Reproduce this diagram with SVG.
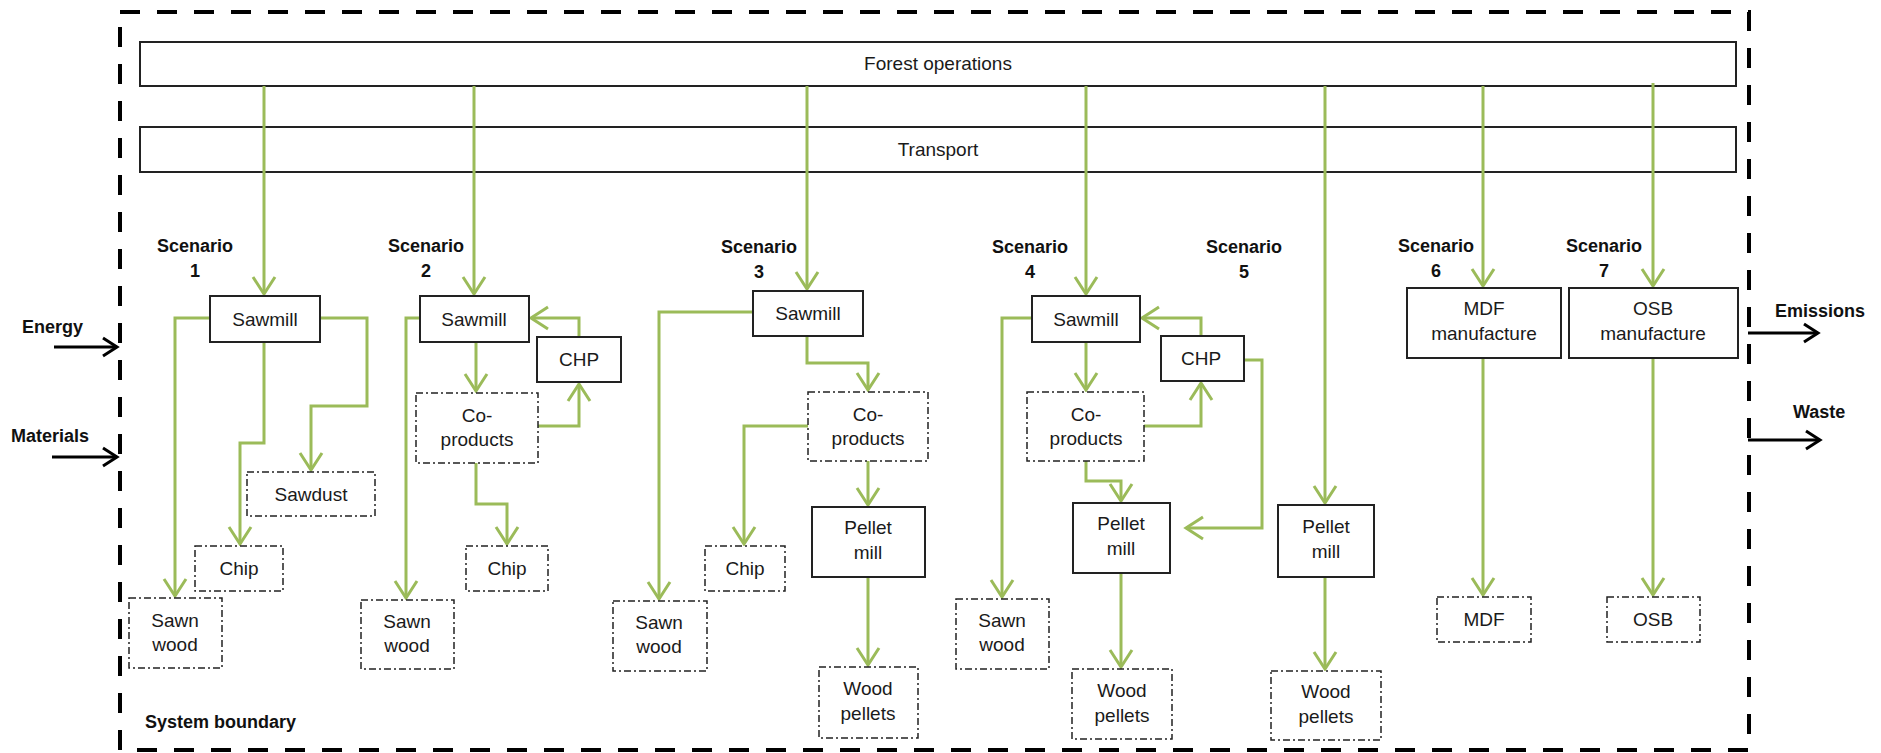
<svg xmlns="http://www.w3.org/2000/svg" width="1881" height="753" viewBox="0 0 1881 753">
<style>
.bar{fill:#fff;stroke:#222;stroke-width:2}
.proc{fill:#fff;stroke:#222;stroke-width:2}
.prod{fill:#fff;stroke:#222;stroke-width:1.5;stroke-dasharray:7 3 2 3}
.t{font-family:"Liberation Sans",Arial,sans-serif;font-size:19px;fill:#1a1a1a;text-anchor:middle}
.b{font-family:"Liberation Sans",Arial,sans-serif;font-size:18px;font-weight:bold;fill:#111}
.bc{text-anchor:middle}
.g{fill:none;stroke:#9BBB59;stroke-width:3;marker-end:url(#ga)}
.k{fill:none;stroke:#000;stroke-width:3;marker-end:url(#ka)}
</style>
<defs>
<marker id="ga" markerUnits="userSpaceOnUse" markerWidth="30" markerHeight="30" viewBox="-20 -15 25 30" refX="0" refY="0" orient="auto">
<path d="M-17,-11 L0,0 L-17,11" fill="none" stroke="#9BBB59" stroke-width="3"/>
</marker>
<marker id="ka" markerUnits="userSpaceOnUse" markerWidth="30" markerHeight="30" viewBox="-20 -15 25 30" refX="0" refY="0" orient="auto">
<path d="M-14,-9 L0,0 L-14,9" fill="none" stroke="#000" stroke-width="3"/>
</marker>
</defs>
<rect width="1881" height="753" fill="#fff"/>

<g id="system-boundary">
<rect x="120" y="12" width="1629" height="738" fill="none" stroke="#000" stroke-width="4" stroke-dasharray="20 17"/>
<text class="b" x="145" y="728">System boundary</text>
</g>

<g id="forest-operations">
<rect class="bar" x="140" y="42" width="1596" height="44"/>
<text class="t" x="938" y="70">Forest operations</text>
</g>
<g id="transport">
<rect class="bar" x="140" y="127" width="1596" height="45"/>
<text class="t" x="938" y="156">Transport</text>
</g>

<g id="connectors">
<!-- Scenario 1 -->
<path class="g" d="M264,86 V294"/>
<path class="g" d="M210,318 H175 V596"/>
<path class="g" d="M264,342 V443 H240 V544"/>
<path class="g" d="M320,318 H367 V406 H311 V470"/>
<!-- Scenario 2 -->
<path class="g" d="M474,86 V294"/>
<path class="g" d="M420,318 H406 V598"/>
<path class="g" d="M476,342 V391"/>
<path class="g" d="M538,426 H579 V384"/>
<path class="g" d="M579,337 V318 H531"/>
<path class="g" d="M476,463 V504 H507 V544"/>
<!-- Scenario 3 -->
<path class="g" d="M807,86 V289"/>
<path class="g" d="M753,312 H659 V599"/>
<path class="g" d="M807,336 V363 H868 V390"/>
<path class="g" d="M808,426 H744 V544"/>
<path class="g" d="M868,461 V505"/>
<path class="g" d="M868,577 V665"/>
<!-- Scenario 4 -->
<path class="g" d="M1086,86 V294"/>
<path class="g" d="M1032,318 H1002 V597"/>
<path class="g" d="M1086,342 V390"/>
<path class="g" d="M1144,426 H1201 V383"/>
<path class="g" d="M1201,336 V318 H1142"/>
<path class="g" d="M1086,461 V481 H1121 V501"/>
<path class="g" d="M1244,360 H1262 V528 H1186"/>
<path class="g" d="M1121,573 V667"/>
<!-- Scenario 5 -->
<path class="g" d="M1325,86 V503"/>
<path class="g" d="M1325,577 V669"/>
<!-- Scenario 6 -->
<path class="g" d="M1483,86 V286"/>
<path class="g" d="M1483,358 V595"/>
<!-- Scenario 7 -->
<path class="g" d="M1653,83 V286"/>
<path class="g" d="M1653,358 V595"/>
<!-- boundary flows -->
<path class="k" d="M54,347 H117"/>
<path class="k" d="M52,457 H117"/>
<path class="k" d="M1748,333 H1818"/>
<path class="k" d="M1748,440 H1820"/>
</g>

<g id="flow-labels">
<text class="b" x="22" y="333">Energy</text>
<text class="b" x="11" y="442">Materials</text>
<text class="b" x="1775" y="317">Emissions</text>
<text class="b" x="1793" y="418">Waste</text>
</g>

<g id="scenario-labels">
<text class="b bc" x="195" y="252">Scenario</text><text class="b bc" x="195" y="277">1</text>
<text class="b bc" x="426" y="252">Scenario</text><text class="b bc" x="426" y="277">2</text>
<text class="b bc" x="759" y="253">Scenario</text><text class="b bc" x="759" y="278">3</text>
<text class="b bc" x="1030" y="253">Scenario</text><text class="b bc" x="1030" y="278">4</text>
<text class="b bc" x="1244" y="253">Scenario</text><text class="b bc" x="1244" y="278">5</text>
<text class="b bc" x="1436" y="252">Scenario</text><text class="b bc" x="1436" y="277">6</text>
<text class="b bc" x="1604" y="252">Scenario</text><text class="b bc" x="1604" y="277">7</text>
</g>

<!-- Scenario 1 nodes -->
<g id="s1-sawmill"><rect class="proc" x="210" y="296" width="110" height="46"/><text class="t" x="265" y="326">Sawmill</text></g>
<g id="s1-sawdust"><rect class="prod" x="247" y="472" width="128" height="44"/><text class="t" x="311" y="501">Sawdust</text></g>
<g id="s1-chip"><rect class="prod" x="195" y="546" width="88" height="45"/><text class="t" x="239" y="575">Chip</text></g>
<g id="s1-sawnwood"><rect class="prod" x="129" y="598" width="93" height="70"/><text class="t" x="175" y="627">Sawn</text><text class="t" x="175" y="651">wood</text></g>

<!-- Scenario 2 nodes -->
<g id="s2-sawmill"><rect class="proc" x="420" y="296" width="109" height="46"/><text class="t" x="474" y="326">Sawmill</text></g>
<g id="s2-chp"><rect class="proc" x="537" y="337" width="84" height="45"/><text class="t" x="579" y="366">CHP</text></g>
<g id="s2-coproducts"><rect class="prod" x="416" y="393" width="122" height="70"/><text class="t" x="477" y="422">Co-</text><text class="t" x="477" y="446">products</text></g>
<g id="s2-chip"><rect class="prod" x="466" y="546" width="82" height="45"/><text class="t" x="507" y="575">Chip</text></g>
<g id="s2-sawnwood"><rect class="prod" x="361" y="600" width="93" height="69"/><text class="t" x="407" y="628">Sawn</text><text class="t" x="407" y="652">wood</text></g>

<!-- Scenario 3 nodes -->
<g id="s3-sawmill"><rect class="proc" x="753" y="291" width="110" height="45"/><text class="t" x="808" y="320">Sawmill</text></g>
<g id="s3-coproducts"><rect class="prod" x="808" y="392" width="120" height="69"/><text class="t" x="868" y="421">Co-</text><text class="t" x="868" y="445">products</text></g>
<g id="s3-chip"><rect class="prod" x="705" y="546" width="80" height="45"/><text class="t" x="745" y="575">Chip</text></g>
<g id="s3-pelletmill"><rect class="proc" x="812" y="507" width="113" height="70"/><text class="t" x="868" y="534">Pellet</text><text class="t" x="868" y="559">mill</text></g>
<g id="s3-woodpellets"><rect class="prod" x="819" y="667" width="99" height="71"/><text class="t" x="868" y="695">Wood</text><text class="t" x="868" y="720">pellets</text></g>
<g id="s3-sawnwood"><rect class="prod" x="613" y="601" width="94" height="70"/><text class="t" x="659" y="629">Sawn</text><text class="t" x="659" y="653">wood</text></g>

<!-- Scenario 4 nodes -->
<g id="s4-sawmill"><rect class="proc" x="1032" y="296" width="108" height="46"/><text class="t" x="1086" y="326">Sawmill</text></g>
<g id="s4-chp"><rect class="proc" x="1161" y="336" width="83" height="45"/><text class="t" x="1201" y="365">CHP</text></g>
<g id="s4-coproducts"><rect class="prod" x="1027" y="392" width="117" height="69"/><text class="t" x="1086" y="421">Co-</text><text class="t" x="1086" y="445">products</text></g>
<g id="s4-pelletmill"><rect class="proc" x="1073" y="503" width="97" height="70"/><text class="t" x="1121" y="530">Pellet</text><text class="t" x="1121" y="555">mill</text></g>
<g id="s4-woodpellets"><rect class="prod" x="1072" y="669" width="100" height="70"/><text class="t" x="1122" y="697">Wood</text><text class="t" x="1122" y="722">pellets</text></g>
<g id="s4-sawnwood"><rect class="prod" x="956" y="599" width="93" height="70"/><text class="t" x="1002" y="627">Sawn</text><text class="t" x="1002" y="651">wood</text></g>

<!-- Scenario 5 nodes -->
<g id="s5-pelletmill"><rect class="proc" x="1278" y="505" width="96" height="72"/><text class="t" x="1326" y="533">Pellet</text><text class="t" x="1326" y="558">mill</text></g>
<g id="s5-woodpellets"><rect class="prod" x="1271" y="671" width="110" height="69"/><text class="t" x="1326" y="698">Wood</text><text class="t" x="1326" y="723">pellets</text></g>

<!-- Scenario 6 nodes -->
<g id="s6-mdf-manufacture"><rect class="proc" x="1407" y="288" width="154" height="70"/><text class="t" x="1484" y="315">MDF</text><text class="t" x="1484" y="340">manufacture</text></g>
<g id="s6-mdf"><rect class="prod" x="1437" y="597" width="94" height="45"/><text class="t" x="1484" y="626">MDF</text></g>

<!-- Scenario 7 nodes -->
<g id="s7-osb-manufacture"><rect class="proc" x="1569" y="288" width="169" height="70"/><text class="t" x="1653" y="315">OSB</text><text class="t" x="1653" y="340">manufacture</text></g>
<g id="s7-osb"><rect class="prod" x="1607" y="597" width="93" height="45"/><text class="t" x="1653" y="626">OSB</text></g>
</svg>
